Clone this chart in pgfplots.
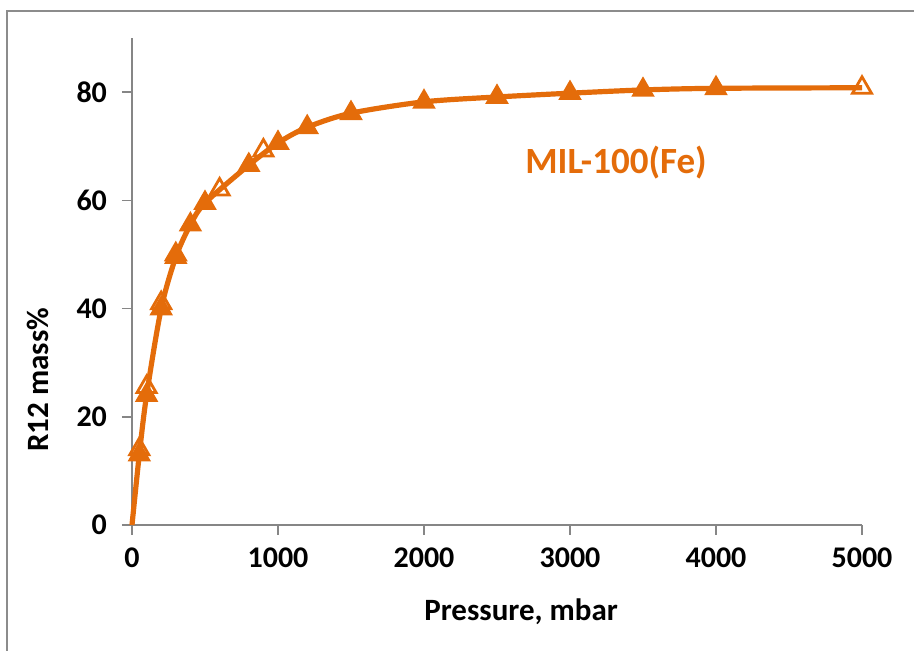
\documentclass[border=0pt]{standalone}
\usepackage{pgfplots}
\pgfplotsset{compat=1.18}
\usepackage{fontspec}
\setmainfont{Carlito}
\definecolor{mil}{HTML}{E46C0A}
\definecolor{axgray}{HTML}{868686}
\definecolor{framegray}{HTML}{8C8C8C}
\begin{document}
\begin{tikzpicture}
\useasboundingbox (-66pt,-63pt) rectangle (391pt,262.5pt);
\draw[framegray, line width=1.1pt] (-62.5pt,-64pt) -- (-62.5pt,257pt) -- (392pt,257pt);
\begin{axis}[
  at={(0,0)}, anchor=origin,
  scale only axis, width=365pt, height=243.5pt,
  xmin=0, xmax=5000, ymin=0, ymax=90,
  axis x line*=bottom, axis y line*=left,
  xtick={0,1000,2000,3000,4000,5000},
  ytick={0,20,40,60,80},
  scaled ticks=false,
  tick align=outside, major tick length=5pt,
  tick style={axgray, line width=0.75pt},
  axis line style={axgray, line width=0.75pt},
  /pgf/number format/assume math mode=true,
  /pgf/number format/1000 sep={},
  ticklabel style={font=\bfseries\fontsize{15}{17}\selectfont, black},
  xticklabel style={yshift=-3pt},
  yticklabel style={xshift=-4pt},
  xlabel={Pressure, mbar},
  ylabel={R12 mass\%},
  label style={font=\bfseries\fontsize{15.5}{17}\selectfont},
  xlabel style={at={(axis description cs:0.533,0)}, anchor=center, yshift=-43.5pt},
  ylabel style={at={(axis description cs:-0.1288,0.298)}, anchor=center},
  clip=false,
]
\addplot[mil, line width=2.6pt, smooth, tension=0.5, no marks] coordinates {
 (0,0) (50,13) (100,24) (200,40) (300,49.5) (400,55.5) (500,59.5)
 (800,66.5) (1000,70.6) (1200,73.5) (1500,76.1) (2000,78.2) (2500,79.1)
 (3000,79.8) (3500,80.4) (4000,80.7) (5000,80.8)
};
\addplot[only marks, mark=triangle*, mark size=6pt, mil, mark options={fill=mil, draw=mil, line width=0.8pt}] coordinates {
 (50,13) (100,24) (200,40) (300,49.5) (400,55.5) (500,59.5)
 (800,66.5) (1000,70.6) (1200,73.5) (1500,76.1) (2000,78.2) (2500,79.1)
 (3000,79.8) (3500,80.4) (4000,80.7)
};
\addplot[only marks, mark=triangle*, mark size=5.5pt, mil, mark options={fill=white, fill opacity=0.0, draw=mil, line width=1.4pt}] coordinates {
 (5000,80.8) (900,69.2) (600,62) (300,50) (200,41) (100,25.5) (50,14)
};
\node[mil, font=\bfseries\fontsize{18.5}{20}\selectfont] at (axis cs:3315,66.9) {MIL-100(Fe)};
\end{axis}
\end{tikzpicture}
\end{document}
